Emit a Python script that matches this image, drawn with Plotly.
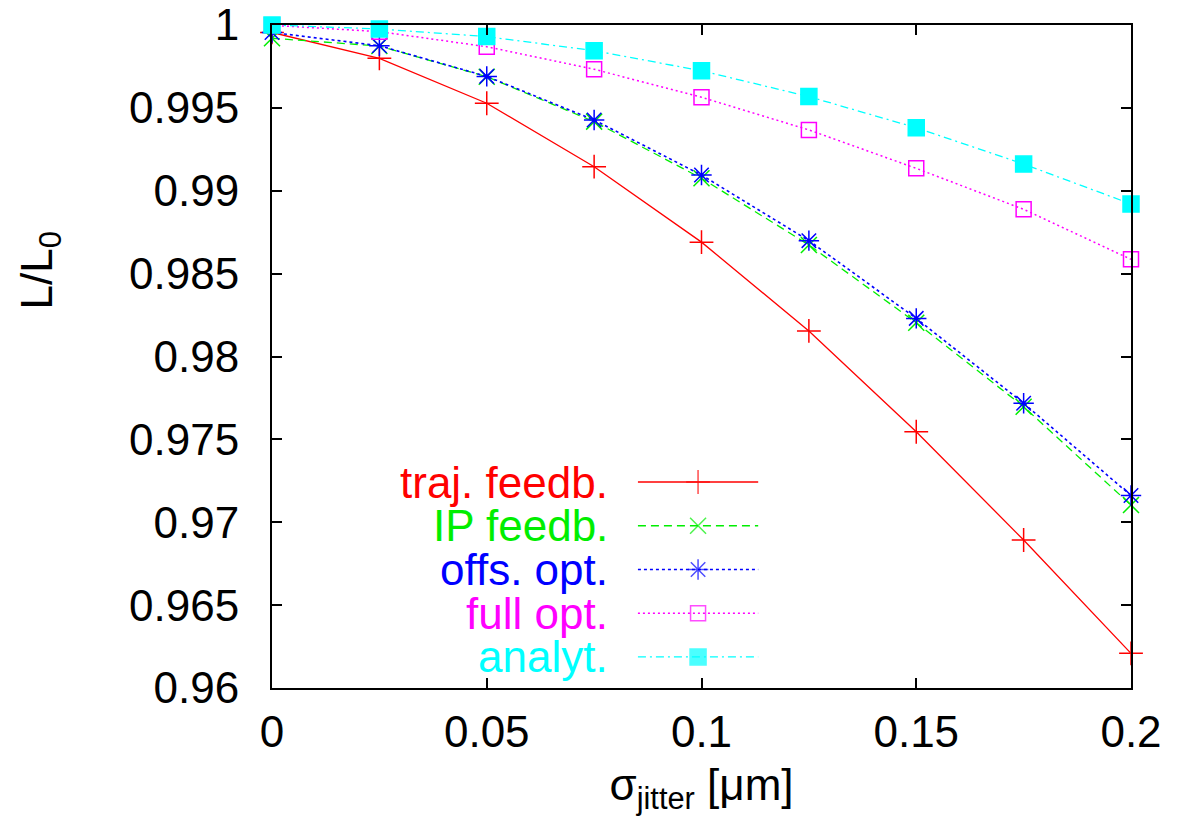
import plotly.graph_objects as go

# sigma_jitter [um]
sigma = [0.0, 0.025, 0.05, 0.075, 0.1, 0.125, 0.15, 0.175, 0.2]

# L/L0
traj_feedb = [0.99955, 0.99799, 0.99528, 0.99145, 0.98690, 0.98154, 0.97546, 0.96893, 0.96209]
ip_feedb = [0.99920, 0.99873, 0.99688, 0.99417, 0.99075, 0.98673, 0.98204, 0.97697, 0.97104]
offs_opt = [0.99955, 0.99875, 0.99690, 0.99427, 0.99095, 0.98699, 0.98230, 0.97718, 0.97161]
full_opt = [0.99998, 0.99960, 0.99869, 0.99733, 0.99564, 0.99367, 0.99135, 0.98888, 0.98586]
analyt = [1.0, 0.99976, 0.99930, 0.99845, 0.99724, 0.99568, 0.99380, 0.99161, 0.98920]

names = ["traj. feedb.", "IP feedb.", "offs. opt.", "full opt.", "analyt."]
series = [traj_feedb, ip_feedb, offs_opt, full_opt, analyt]
colors = ["#ff0000", "#00ee00", "#0000ff", "#ff00ff", "#00ffff"]
dashes = ["solid", "8px,5px", "3px,3px", "2px,3px", "8px,4px,2px,4px"]
widths = [1.3, 1.3, 1.6, 1.5, 1.3]
symbols = ["cross-thin-open", "x-thin-open", "asterisk-open", "square-open", "square"]
msizes = [17, 16, 17, 15, 16]

FONT = "Liberation Sans, Arial, Helvetica, sans-serif"
FS = 44

fig = go.Figure()

for name, ys, c, d, w, s, ms in zip(names, series, colors, dashes, widths, symbols, msizes):
    fig.add_trace(go.Scatter(
        x=sigma, y=ys, name=name, mode="lines+markers",
        line=dict(color=c, dash=d, width=w),
        marker=dict(symbol=s, size=ms, color=c, line=dict(color=c, width=1.5)),
        cliponaxis=False, showlegend=False))

# hand-made legend (text left of the sample, as in gnuplot)
leg_rows = [0.3107, 0.2447, 0.1788, 0.1128, 0.0468]
leg_x = [0.426, 0.496, 0.566]
for name, c, d, w, s, ms, ry in zip(names, colors, dashes, widths, symbols, msizes, leg_rows):
    fig.add_trace(go.Scatter(
        x=leg_x, y=[ry] * 3, mode="lines+markers", xaxis="x2", yaxis="y2",
        line=dict(color=c, dash=d, width=w),
        marker=dict(symbol=s, size=[0, ms, 0], color=c, line=dict(color=c, width=1.5)),
        showlegend=False, hoverinfo="skip", cliponaxis=False))
    fig.add_annotation(x=0.3935, y=ry, xref="paper", yref="paper", text=name,
                       showarrow=False, xanchor="right", yanchor="middle",
                       font=dict(family=FONT, size=FS, color=c))

axis_common = dict(showline=True, linecolor="black", linewidth=2, mirror="ticks",
                   ticks="inside", ticklen=10, tickwidth=1.5, tickcolor="black",
                   showgrid=False, zeroline=False, automargin=False,
                   ticklabeloverflow="allow",
                   tickfont=dict(family=FONT, size=FS, color="black"))

# page body has an 8px margin, so the figure is 8px smaller than the window
fig.update_layout(
    width=1176, height=819,
    margin=dict(l=264, r=53, t=17, b=139),
    paper_bgcolor="white", plot_bgcolor="white",
    font=dict(family=FONT, size=FS, color="black"),
    xaxis=dict(range=[0, 0.2], dtick=0.05, tick0=0, ticklabelstandoff=4,
               title=dict(text="σ<sub>jitter</sub> [μm]", font=dict(family=FONT, size=FS), standoff=14),
               **axis_common),
    yaxis=dict(range=[0.96, 1.0], dtick=0.005, tick0=0.96, ticklabelstandoff=22,
               **axis_common),
    xaxis2=dict(range=[0, 1], overlaying="x", visible=False),
    yaxis2=dict(range=[0, 1], overlaying="y", visible=False),
)

fig.add_annotation(x=-0.27, y=0.63, xref="paper", yref="paper", text="L/L<sub>0</sub>",
                   showarrow=False, textangle=-90, xanchor="center", yanchor="middle",
                   font=dict(family=FONT, size=FS, color="black"))

fig.write_html("out.html")
